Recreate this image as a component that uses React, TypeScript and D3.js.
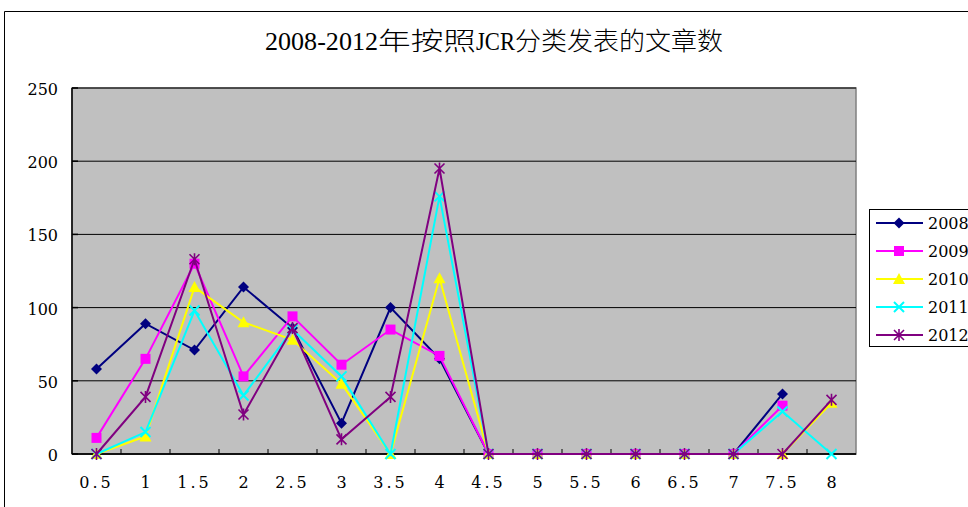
import React from "react";
import * as d3 from "d3";

const categories = ["0.5","1","1.5","2","2.5","3","3.5","4","4.5","5","5.5","6","6.5","7","7.5","8"];
const seriesNames = ["2008","2009","2010","2011","2012"];
const s2008: (number|null)[] = [58,89,71,114,86,21,100,65,0,0,0,0,0,0,41,null];
const s2009: (number|null)[] = [11,65,130,53,94,61,85,67,0,0,0,0,0,0,33,null];
const s2010: (number|null)[] = [0,12,114,90,78,48,0,120,0,0,0,0,0,0,0,35];
const s2011: (number|null)[] = [0,15,98,40,85,53,0,176,0,0,0,0,0,0,29,0];
const s2012: (number|null)[] = [0,39,133,27,86,10,39,195,0,0,0,0,0,0,0,37];
const yTicks = [0,50,100,150,200,250];
const titleParts = ["2008-2012", "年按照", "JCR", "分类发表的文章数"];
const colors = ["#000080","#FF00FF","#FFFF00","#00FFFF","#800080"];
const markers = ["diamond","square","triangle","x","star"];
const allSeries = [s2008,s2009,s2010,s2011,s2012];

const W = 968, H = 507;
const left = 72, right = 856, top = 88, bottom = 454;
const titleX = [265, 378, 476, 515];
const titleLen = [113, 98, 39, 208];

function Marker({ type, x, y, color }: { type: string; x: number; y: number; color: string }) {
  if (type === "diamond") {
    const r = 5.5;
    return <path d={`M${x},${y-r}L${x+r},${y}L${x},${y+r}L${x-r},${y}Z`} fill={color} />;
  }
  if (type === "square") {
    return <rect x={x-5} y={y-5} width={10} height={10} fill={color} />;
  }
  if (type === "triangle") {
    return <path d={`M${x},${y-6}L${x+6},${y+5}L${x-6},${y+5}Z`} fill={color} />;
  }
  if (type === "x") {
    const r = 5;
    return <path d={`M${x-r},${y-r}L${x+r},${y+r}M${x-r},${y+r}L${x+r},${y-r}`} stroke={color} strokeWidth={2} />;
  }
  const r = 5;
  return <path d={`M${x-r},${y-r}L${x+r},${y+r}M${x-r},${y+r}L${x+r},${y-r}M${x},${y-6}L${x},${y+6}`} stroke={color} strokeWidth={1.6} />;
}

export default function App() {
  const x = d3.scaleBand<string>().domain(categories).range([left, right]);
  const y = d3.scaleLinear().domain([0, 250]).range([bottom, top]);
  const line = d3.line<number|null>()
    .defined(d => d !== null)
    .x((_, i) => (x(categories[i]) as number) + x.bandwidth() / 2)
    .y(d => y(d as number));
  const font = "'DejaVu Serif', 'Liberation Serif', 'Noto Sans CJK SC', serif";
  return (
    <svg width={W} height={H} style={{ position: "absolute", left: 0, top: 0, background: "#fff" }}>
      <path d={`M4.5,${H}V11.5H${W}`} fill="none" stroke="#000" strokeWidth={1} />
      {titleParts.map((p, i) => (
        <text key={p} x={titleX[i]} y={50} fontSize={25} textLength={titleLen[i]} lengthAdjust="spacingAndGlyphs"
          fontFamily={i % 2 === 0 ? "'Liberation Serif', serif" : "'Noto Sans CJK SC', sans-serif"} fontWeight={i % 2 === 0 ? 400 : 300}>{p}</text>
      ))}
      <rect x={left} y={top} width={right-left} height={bottom-top} fill="#C0C0C0" stroke="#808080" strokeWidth={1.5} />
      {yTicks.map(t => (
        <g key={t}>
          <line x1={left} x2={right} y1={y(t)} y2={y(t)} stroke="#000" strokeWidth={1} />
          <line x1={left} x2={left+6} y1={y(t)} y2={y(t)} stroke="#000" strokeWidth={1.5} />
          <text x={58} y={y(t)+7} textAnchor="end" fontSize={16} fontFamily={font}>{t}</text>
        </g>
      ))}
      <line x1={left} x2={left} y1={top} y2={bottom} stroke="#000" strokeWidth={1.5} />
      <line x1={left} x2={right} y1={bottom} y2={bottom} stroke="#000" strokeWidth={1.5} />
      {categories.map((c, i) => (
        <g key={c}>
          {i > 0 && <line x1={x(c) as number} x2={x(c) as number} y1={bottom} y2={bottom-5} stroke="#000" strokeWidth={1} />}
          <text x={(x(c) as number) + x.bandwidth()/2} y={488} textAnchor="middle" fontSize={16} letterSpacing={c.includes(".") ? 3 : 0} fontFamily={font}>{c}</text>
        </g>
      ))}
      {allSeries.map((s, si) => (
        <g key={si}>
          <path d={line(s) || ""} fill="none" stroke={colors[si]} strokeWidth={2} />
          {s.map((v, i) => v === null ? null : (
            <Marker key={i} type={markers[si]} x={(x(categories[i]) as number) + x.bandwidth()/2} y={y(v)} color={colors[si]} />
          ))}
        </g>
      ))}
      <rect x={869.5} y={209.5} width={120} height={137} fill="#fff" stroke="#000" strokeWidth={1} />
      {seriesNames.map((n, i) => {
        const ly = 223 + i * 28;
        return (
          <g key={n}>
            <line x1={876} x2={923} y1={ly} y2={ly} stroke={colors[i]} strokeWidth={2} />
            <Marker type={markers[i]} x={899} y={ly} color={colors[i]} />
            <text x={928} y={ly+6} fontSize={16} fontFamily={font}>{n}</text>
          </g>
        );
      })}
    </svg>
  );
}
